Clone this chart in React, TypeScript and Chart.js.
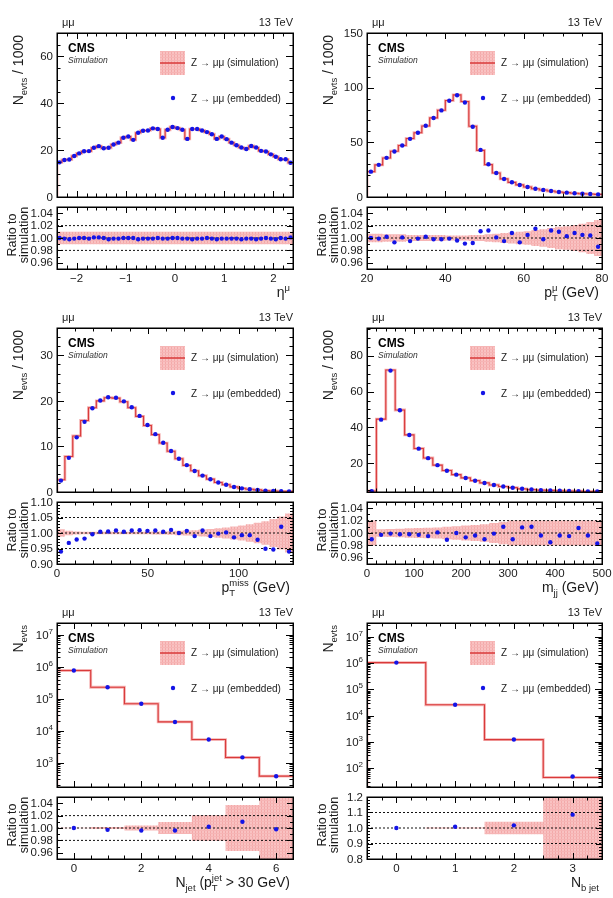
import { useEffect, useRef } from 'react';
import { Chart, registerables } from 'chart.js';

Chart.register(...registerables);

const FONT = '"Liberation Sans", Arial, Helvetica, sans-serif';
const TEXT = '#1b1b1b';
const SIM_RED = '#d93a3a';
const SIM_HALO = '#f5b3b3';
const EMB_BLUE = '#1414e6';

// ---- muon pseudorapidity ----
const etaLo = -2.4, etaHi = 2.4, etaBins = 48;
const etaSim = [14.8, 15.8, 16.0, 17.5, 18.6, 19.5, 19.6, 21.0, 21.7, 20.8, 21.0, 22.4,
  23.2, 25.3, 25.8, 24.4, 27.4, 28.3, 28.4, 29.3, 29.0, 25.3, 28.7, 29.9,
  29.4, 28.7, 24.8, 29.0, 29.0, 28.4, 27.7, 26.8, 24.8, 25.8, 24.7, 23.2,
  22.1, 21.1, 20.5, 21.8, 21.1, 19.7, 19.4, 18.2, 17.2, 16.1, 16.1, 14.6];
const etaEmb = [14.8, 15.8, 16.0, 17.5, 18.6, 19.5, 19.6, 21.0, 21.7, 20.8, 21.0, 22.4,
  23.2, 25.3, 25.8, 24.4, 27.4, 28.3, 28.4, 29.3, 29.0, 25.3, 28.7, 29.9,
  29.4, 28.7, 24.8, 29.0, 29.0, 28.4, 27.7, 26.8, 24.8, 25.8, 24.7, 23.2,
  22.1, 21.1, 20.5, 21.8, 21.1, 19.7, 19.4, 18.2, 17.2, 16.1, 16.1, 14.6];
const etaRatio = [1.000, 0.999, 0.998, 0.999, 1.000, 1.000, 0.999, 1.001, 1.001, 1.000, 0.998, 0.999,
  0.999, 1.000, 1.000, 1.000, 0.998, 0.999, 0.999, 0.999, 1.000, 0.999, 0.999, 1.000,
  1.000, 0.999, 0.999, 0.998, 0.999, 0.999, 1.000, 0.999, 0.998, 0.999, 0.999, 0.999,
  0.999, 0.998, 0.999, 0.999, 0.998, 0.999, 1.000, 0.999, 0.998, 1.000, 0.999, 1.001];
const etaErr = [0.010, 0.010, 0.010, 0.010, 0.010, 0.010, 0.010, 0.010, 0.010, 0.010, 0.010, 0.010,
  0.010, 0.010, 0.010, 0.010, 0.010, 0.010, 0.010, 0.010, 0.010, 0.010, 0.010, 0.010,
  0.010, 0.010, 0.010, 0.010, 0.010, 0.010, 0.010, 0.010, 0.010, 0.010, 0.010, 0.010,
  0.010, 0.010, 0.010, 0.010, 0.010, 0.010, 0.010, 0.010, 0.010, 0.010, 0.010, 0.010];

// ---- muon transverse momentum ----
const ptLo = 20, ptHi = 80, ptBins = 30;
const ptSim = [23.2, 29.4, 35.7, 41.9, 47.1, 53.5, 58.8, 65.0, 72.4, 79.4, 88.2, 93.4, 87.3, 64.7, 42.6,
  29.6, 22.0, 16.6, 13.4, 11.1, 9.15, 7.5, 6.4, 5.45, 4.55, 4.0, 3.37, 2.98, 2.69, 2.43];
const ptEmb = [23.2, 29.4, 35.8, 41.6, 47.1, 53.2, 58.7, 65.1, 72.2, 79.2, 88.1, 93.0, 86.5, 64.2, 43.1,
  30.0, 22.0, 16.5, 13.5, 11.0, 9.2, 7.6, 6.4, 5.5, 4.6, 4.0, 3.4, 3.0, 2.7, 2.4];
const ptRatio = [1.000, 0.999, 1.002, 0.993, 1.001, 0.995, 0.999, 1.002, 0.998, 0.998, 0.999, 0.996, 0.991, 0.992, 1.011,
  1.012, 1.001, 0.995, 1.008, 0.993, 1.005, 1.015, 0.998, 1.012, 1.010, 1.003, 1.008, 1.005, 1.004, 0.986];
const ptErr = [0.007, 0.007, 0.006, 0.006, 0.006, 0.005, 0.005, 0.005, 0.005, 0.005, 0.004, 0.004, 0.004, 0.005, 0.005,
  0.006, 0.007, 0.008, 0.009, 0.010, 0.011, 0.013, 0.014, 0.016, 0.018, 0.019, 0.021, 0.023, 0.026, 0.029];

// ---- missing transverse momentum ----
const metLo = 0, metHi = 130, metBins = 30;
const metSim = [2.7, 7.8, 12.3, 15.7, 18.5, 20.0, 20.7, 20.6, 19.8, 18.5, 16.6, 14.6, 12.6, 10.75, 8.95,
  7.3, 5.85, 4.65, 3.57, 2.83, 2.1, 1.6, 1.12, 0.81, 0.6, 0.46, 0.32, 0.23, 0.15, 0.13];
const metEmb = [2.5, 7.5, 12.0, 15.4, 18.4, 20.1, 20.8, 20.7, 19.9, 18.6, 16.7, 14.7, 12.7, 10.8, 9.0,
  7.3, 5.9, 4.6, 3.6, 2.8, 2.1, 1.6, 1.1, 0.8, 0.6, 0.45, 0.3, 0.22, 0.15, 0.12];
const metRatio = [0.940, 0.968, 0.979, 0.982, 0.996, 1.004, 1.005, 1.008, 1.004, 1.008, 1.009, 1.007, 1.008, 1.004, 1.010,
  1.000, 1.007, 0.990, 1.008, 0.990, 0.998, 1.002, 0.986, 0.993, 0.993, 0.978, 0.949, 0.947, 1.020, 0.940];
const metErr = [0.012, 0.007, 0.005, 0.004, 0.004, 0.004, 0.004, 0.004, 0.004, 0.004, 0.004, 0.004, 0.005, 0.005, 0.006,
  0.007, 0.008, 0.009, 0.011, 0.013, 0.015, 0.018, 0.021, 0.024, 0.028, 0.033, 0.038, 0.045, 0.053, 0.063];

// ---- dijet invariant mass ----
const mjjLo = 0, mjjHi = 500, mjjBins = 25;
const mjjSim = [4.45, 44.6, 72.0, 49.7, 35.8, 28.2, 22.9, 18.9, 15.9, 13.6, 11.8, 10.25, 9.0,
  7.8, 6.95, 6.35, 5.65, 5.25, 4.92, 4.8, 4.62, 4.47, 4.37, 4.22, 4.27];
const mjjEmb = [4.4, 44.3, 71.7, 49.6, 35.7, 28.1, 22.8, 18.9, 15.8, 13.6, 11.7, 10.2, 8.9,
  7.8, 7.0, 6.3, 5.7, 5.3, 4.9, 4.75, 4.6, 4.45, 4.4, 4.2, 4.2];
const mjjRatio = [0.990, 0.997, 0.999, 0.998, 0.998, 0.997, 0.995, 1.001, 0.989, 1.000, 0.993, 0.996, 0.990,
  0.999, 1.010, 0.990, 1.009, 1.010, 0.996, 0.985, 0.996, 0.995, 1.008, 0.996, 0.983];
const mjjErr = [0.020, 0.006, 0.0065, 0.007, 0.0075, 0.008, 0.0085, 0.009, 0.010, 0.011, 0.012, 0.013, 0.014,
  0.016, 0.018, 0.020, 0.020, 0.020, 0.020, 0.020, 0.020, 0.020, 0.020, 0.020, 0.020];

// ---- jet multiplicity ----
const njLo = -0.5, njHi = 6.5, njBins = 7;
const njSim = [7.66e5, 2.29e5, 6.98e4, 1.89e4, 5.31e3, 1.455e3, 380];
const njEmb = [7.66e5, 2.28e5, 6.95e4, 1.88e4, 5.32e3, 1.47e3, 379];
const njRatio = [1.000, 0.997, 0.996, 0.996, 1.002, 1.010, 0.998];
const njErr = [0.0005, 0.0016, 0.004, 0.0097, 0.0205, 0.037, 0.08];

// ---- b jet multiplicity ----
const nbLo = -0.5, nbHi = 3.5, nbBins = 4;
const nbSim = [1.06e6, 2.58e4, 1.2e3, 43.1];
const nbEmb = [1.06e6, 2.6e4, 1.22e3, 46.8];
const nbRatio = [1.000, 1.008, 1.017, 1.086];
const nbErr = [0.0005, 0.003, 0.04, 0.35];

type Part = { t: string; size?: number; dy?: number; stay?: boolean };

const TS = 14;
const sub = (t: string, stay = false): Part => ({ t, size: 9.5, dy: 3.8, stay });
const sup = (t: string): Part => ({ t, size: 9.5, dy: -6 });
const txt = (t: string): Part => ({ t });

const yTitleLin: Part[] = [txt('N'), sub('evts'), txt(' / 1000')];
const yTitleLog: Part[] = [txt('N'), sub('evts')];

type Cfg = {
  col: number; row: number;
  lo: number; hi: number; n: number;
  sim: number[]; emb: number[]; ratio: number[]; err: number[];
  log: boolean; yMin: number; yMax: number; yMajor: number; yMinor: number;
  xMajor: number; xMinor: number;
  rMin: number; rMax: number; rMajor: number; rMinor: number; rDec: number; refs: number[];
  xTitle: Part[]; yTitle: Part[];
};

const panels: Cfg[] = [
  {
    col: 0, row: 0, lo: etaLo, hi: etaHi, n: etaBins, sim: etaSim, emb: etaEmb, ratio: etaRatio, err: etaErr,
    log: false, yMin: 0, yMax: 70, yMajor: 20, yMinor: 5, xMajor: 1, xMinor: 0.2,
    rMin: 0.95, rMax: 1.05, rMajor: 0.02, rMinor: 0.01, rDec: 2, refs: [0.98, 1.0, 1.02],
    xTitle: [txt('η'), sup('μ')], yTitle: yTitleLin,
  },
  {
    col: 1, row: 0, lo: ptLo, hi: ptHi, n: ptBins, sim: ptSim, emb: ptEmb, ratio: ptRatio, err: ptErr,
    log: false, yMin: 0, yMax: 150, yMajor: 50, yMinor: 10, xMajor: 20, xMinor: 5,
    rMin: 0.95, rMax: 1.05, rMajor: 0.02, rMinor: 0.01, rDec: 2, refs: [0.98, 1.0, 1.02],
    xTitle: [txt('p'), sub('T', true), sup('μ'), txt(' (GeV)')], yTitle: yTitleLin,
  },
  {
    col: 0, row: 1, lo: metLo, hi: metHi, n: metBins, sim: metSim, emb: metEmb, ratio: metRatio, err: metErr,
    log: false, yMin: 0, yMax: 36, yMajor: 10, yMinor: 2, xMajor: 50, xMinor: 10,
    rMin: 0.9, rMax: 1.1, rMajor: 0.05, rMinor: 0.01, rDec: 2, refs: [0.95, 1.0, 1.05],
    xTitle: [txt('p'), sub('T', true), sup('miss'), txt(' (GeV)')], yTitle: yTitleLin,
  },
  {
    col: 1, row: 1, lo: mjjLo, hi: mjjHi, n: mjjBins, sim: mjjSim, emb: mjjEmb, ratio: mjjRatio, err: mjjErr,
    log: false, yMin: 3.9, yMax: 95.5, yMajor: 20, yMinor: 5, xMajor: 100, xMinor: 20,
    rMin: 0.95, rMax: 1.05, rMajor: 0.02, rMinor: 0.01, rDec: 2, refs: [0.98, 1.0, 1.02],
    xTitle: [txt('m'), sub('jj'), txt(' (GeV)')], yTitle: yTitleLin,
  },
  {
    col: 0, row: 2, lo: njLo, hi: njHi, n: njBins, sim: njSim, emb: njEmb, ratio: njRatio, err: njErr,
    log: true, yMin: 174, yMax: 2.34e7, yMajor: 0, yMinor: 0, xMajor: 2, xMinor: 0.5,
    rMin: 0.95, rMax: 1.05, rMajor: 0.02, rMinor: 0.01, rDec: 2, refs: [0.98, 1.0, 1.02],
    xTitle: [txt('N'), sub('jet'), txt(' (p'), sub('T', true), sup('jet'), txt(' > 30 GeV)')], yTitle: yTitleLog,
  },
  {
    col: 1, row: 2, lo: nbLo, hi: nbHi, n: nbBins, sim: nbSim, emb: nbEmb, ratio: nbRatio, err: nbErr,
    log: true, yMin: 18.6, yMax: 3.47e7, yMajor: 0, yMinor: 0, xMajor: 1, xMinor: 0.25,
    rMin: 0.8, rMax: 1.2, rMajor: 0.1, rMinor: 0.02, rDec: 1, refs: [0.9, 1.0, 1.1],
    xTitle: [txt('N'), sub('b jet')], yTitle: yTitleLog,
  },
];

// ---- helpers ----
function edgesOf(lo: number, hi: number, n: number) {
  const out: number[] = [];
  for (let i = 0; i <= n; i++) out.push(lo + ((hi - lo) * i) / n);
  return out;
}

function stepPoints(edges: number[], vals: number[], floor?: number) {
  const pts: { x: number; y: number }[] = [];
  if (floor !== undefined) pts.push({ x: edges[0], y: floor });
  vals.forEach((v, i) => pts.push({ x: edges[i], y: v }));
  pts.push({ x: edges[edges.length - 1], y: vals[vals.length - 1] });
  return pts;
}

function centers(edges: number[], vals: number[]) {
  return vals.map((v, i) => ({ x: (edges[i] + edges[i + 1]) / 2, y: v }));
}

function tickValues(min: number, max: number, step: number) {
  const out: number[] = [];
  const start = Math.ceil(min / step - 1e-9);
  for (let k = start; k * step <= max + 1e-9; k++) out.push(+(k * step).toFixed(10));
  return out;
}

function fmt(v: number, dec: number) {
  const s = Math.abs(v) < 1e-12 ? (0).toFixed(dec) : v.toFixed(dec);
  return s.replace('-', '−');
}

function drawRich(ctx: CanvasRenderingContext2D, parts: Part[], x: number, y: number, base: number, align: string) {
  let pending = 0;
  const adv = parts.map((p) => {
    ctx.font = `${p.size ?? base}px ${FONT}`;
    const w = ctx.measureText(p.t).width;
    if (p.stay) { pending = w; return 0; }
    const a = Math.max(w, pending);
    pending = 0;
    return a;
  });
  const total = adv.reduce((s, v) => s + v, 0);
  let cx = align === 'right' ? x - total : align === 'center' ? x - total / 2 : x;
  ctx.textAlign = 'left';
  ctx.textBaseline = 'alphabetic';
  parts.forEach((p, i) => {
    ctx.font = `${p.size ?? base}px ${FONT}`;
    ctx.fillText(p.t, cx, y + (p.dy ?? 0));
    cx += adv[i];
  });
}

let hatch: CanvasPattern | string | null = null;
function bandFill(): CanvasPattern | string {
  if (hatch) return hatch;
  const c = document.createElement('canvas');
  c.width = 3; c.height = 3;
  const g = c.getContext('2d');
  if (!g) return '#f7bcbc';
  g.fillStyle = '#f9c2c2';
  g.fillRect(0, 0, 3, 3);
  g.fillStyle = '#f3a9a9';
  g.fillRect(0, 0, 1, 3);
  g.fillStyle = '#f6b5b5';
  g.fillRect(0, 0, 3, 1);
  hatch = g.createPattern(c, 'repeat') || '#f7bcbc';
  return hatch;
}

function crisp(v: number) { return Math.round(v) + 0.5; }

function drawXTicks(ctx: CanvasRenderingContext2D, chart: any, cfg: Cfg, major: number, minor: number) {
  const a = chart.chartArea; const xs = chart.scales.x;
  const majors = tickValues(cfg.lo, cfg.hi, cfg.xMajor);
  const minors = tickValues(cfg.lo, cfg.hi, cfg.xMinor);
  ctx.beginPath();
  minors.forEach((v) => {
    const px = crisp(xs.getPixelForValue(v));
    ctx.moveTo(px, a.bottom); ctx.lineTo(px, a.bottom - minor);
    ctx.moveTo(px, a.top); ctx.lineTo(px, a.top + minor);
  });
  majors.forEach((v) => {
    const px = crisp(xs.getPixelForValue(v));
    ctx.moveTo(px, a.bottom); ctx.lineTo(px, a.bottom - major);
    ctx.moveTo(px, a.top); ctx.lineTo(px, a.top + major);
  });
  ctx.stroke();
}

function drawYTicksLin(ctx: CanvasRenderingContext2D, chart: any, min: number, max: number, majStep: number, minStep: number, major: number, minor: number) {
  const a = chart.chartArea; const ys = chart.scales.y;
  const majors = tickValues(min, max, majStep);
  const minors = tickValues(min, max, minStep);
  ctx.beginPath();
  minors.forEach((v) => {
    const py = crisp(ys.getPixelForValue(v));
    ctx.moveTo(a.left, py); ctx.lineTo(a.left + minor, py);
    ctx.moveTo(a.right, py); ctx.lineTo(a.right - minor, py);
  });
  majors.forEach((v) => {
    const py = crisp(ys.getPixelForValue(v));
    ctx.moveTo(a.left, py); ctx.lineTo(a.left + major, py);
    ctx.moveTo(a.right, py); ctx.lineTo(a.right - major, py);
  });
  ctx.stroke();
  return majors;
}

function frame(ctx: CanvasRenderingContext2D, a: any) {
  ctx.lineWidth = 1.5;
  ctx.strokeStyle = '#000';
  ctx.strokeRect(Math.round(a.left) + 0.25, Math.round(a.top) + 0.25, Math.round(a.right - a.left), Math.round(a.bottom - a.top));
}

function mainDecor(cfg: Cfg) {
  return {
    id: 'mainDecor',
    afterDraw(chart: any) {
      const ctx: CanvasRenderingContext2D = chart.ctx;
      const a = chart.chartArea; const ys = chart.scales.y;
      ctx.save();
      ctx.strokeStyle = '#000'; ctx.lineWidth = 1;
      drawXTicks(ctx, chart, cfg, 6, 3.5);
      ctx.fillStyle = TEXT;
      if (cfg.log) {
        const e0 = Math.floor(Math.log10(cfg.yMin)); const e1 = Math.ceil(Math.log10(cfg.yMax));
        ctx.beginPath();
        for (let e = e0; e <= e1; e++) {
          for (let m = 1; m <= 9; m++) {
            const v = m * Math.pow(10, e);
            if (v < cfg.yMin || v > cfg.yMax) continue;
            const len = m === 1 ? 7 : 3.5;
            const py = crisp(ys.getPixelForValue(v));
            ctx.moveTo(a.left, py); ctx.lineTo(a.left + len, py);
            ctx.moveTo(a.right, py); ctx.lineTo(a.right - len, py);
          }
        }
        ctx.stroke();
        for (let e = e0; e <= e1; e++) {
          const v = Math.pow(10, e);
          if (v < cfg.yMin || v > cfg.yMax) continue;
          const py = ys.getPixelForValue(v);
          drawRich(ctx, [{ t: '10', size: 11.5 }, { t: String(e), size: 8, dy: -5 }], a.left - 4, py + 4, 11.5, 'right');
        }
      } else {
        const majors = drawYTicksLin(ctx, chart, cfg.yMin, cfg.yMax, cfg.yMajor, cfg.yMinor, 7, 3.5);
        ctx.font = `11.5px ${FONT}`;
        ctx.textAlign = 'right'; ctx.textBaseline = 'middle';
        majors.forEach((v) => ctx.fillText(fmt(v, 0), a.left - 4, ys.getPixelForValue(v) + 0.5));
      }
      frame(ctx, a);

      // header texts
      ctx.fillStyle = TEXT;
      ctx.font = `11px ${FONT}`;
      ctx.textAlign = 'left'; ctx.textBaseline = 'alphabetic';
      ctx.fillText('μμ', a.left + 5, a.top - 7);
      ctx.textAlign = 'right';
      ctx.fillText('13 TeV', a.right, a.top - 7);
      ctx.textAlign = 'left';
      ctx.fillStyle = '#000';
      ctx.font = `bold 12px ${FONT}`;
      ctx.fillText('CMS', a.left + 11, a.top + 19);
      ctx.fillStyle = '#333';
      ctx.font = `italic 8.5px ${FONT}`;
      ctx.fillText('Simulation', a.left + 11, a.top + 30);

      // legend
      const lx = a.left + 103;
      ctx.fillStyle = bandFill() as any;
      ctx.fillRect(lx, a.top + 18, 25, 24);
      ctx.strokeStyle = SIM_RED; ctx.lineWidth = 1.5;
      ctx.beginPath(); ctx.moveTo(lx, a.top + 30); ctx.lineTo(lx + 25, a.top + 30); ctx.stroke();
      ctx.fillStyle = EMB_BLUE;
      ctx.beginPath(); ctx.arc(lx + 13, a.top + 65, 2.2, 0, Math.PI * 2); ctx.fill();
      ctx.fillStyle = TEXT;
      ctx.font = `10px ${FONT}`;
      ctx.fillText('Z → μμ (simulation)', a.left + 134, a.top + 32.5);
      ctx.fillText('Z → μμ (embedded)', a.left + 134, a.top + 68.5);

      // y title
      ctx.save();
      ctx.translate(a.left - 34, a.top + 2);
      ctx.rotate(-Math.PI / 2);
      drawRich(ctx, cfg.yTitle, 0, 0, TS, 'right');
      ctx.restore();
      ctx.restore();
    },
  };
}

function ratioDecor(cfg: Cfg) {
  return {
    id: 'ratioDecor',
    afterDraw(chart: any) {
      const ctx: CanvasRenderingContext2D = chart.ctx;
      const a = chart.chartArea; const xs = chart.scales.x; const ys = chart.scales.y;
      ctx.save();
      ctx.strokeStyle = '#000'; ctx.lineWidth = 1;
      drawXTicks(ctx, chart, cfg, 6, 3.5);
      const majors = drawYTicksLin(ctx, chart, cfg.rMin, cfg.rMax, cfg.rMajor, cfg.rMinor, 6, 3);
      frame(ctx, a);
      ctx.fillStyle = TEXT;
      ctx.font = `11.5px ${FONT}`;
      ctx.textAlign = 'right'; ctx.textBaseline = 'middle';
      majors.forEach((v) => ctx.fillText(fmt(v, cfg.rDec), a.left - 4, ys.getPixelForValue(v) + 0.5));
      ctx.textAlign = 'center'; ctx.textBaseline = 'top';
      const xDec = cfg.xMajor < 1 ? 1 : 0;
      tickValues(cfg.lo, cfg.hi, cfg.xMajor).forEach((v) => ctx.fillText(fmt(v, xDec), xs.getPixelForValue(v), a.bottom + 4));
      drawRich(ctx, cfg.xTitle, a.right - 3, a.bottom + 28, TS, 'right');
      ctx.save();
      ctx.translate(a.left - 44, a.top + 28);
      ctx.rotate(-Math.PI / 2);
      ctx.font = `12.5px ${FONT}`;
      ctx.textAlign = 'center'; ctx.textBaseline = 'middle';
      ctx.fillText('Ratio to', 0, 0);
      ctx.fillText('simulation', 0, 12);
      ctx.restore();
      ctx.restore();
    },
  };
}

// each panel owns a 307×305 region; neighbouring regions overlap a little, canvases are transparent
const W = 307, H = 305, ROW = 295;

function pads(cfg: Cfg, top: number, bottom: number) {
  return cfg.col === 0
    ? { left: 57, right: W - 293, top, bottom: H - bottom }
    : { left: 61, right: W - 296, top, bottom: H - bottom };
}

function baseOptions(cfg: Cfg, padding: any, y: any) {
  return {
    responsive: false,
    animation: false as const,
    devicePixelRatio: 1,
    events: [],
    layout: { padding },
    plugins: { legend: { display: false }, tooltip: { enabled: false }, title: { display: false } },
    scales: {
      x: { type: 'linear' as const, display: false, min: cfg.lo, max: cfg.hi, bounds: 'data' as const },
      y,
    },
  };
}

function makeMain(canvas: HTMLCanvasElement, cfg: Cfg) {
  const edges = edgesOf(cfg.lo, cfg.hi, cfg.n);
  const steps = stepPoints(edges, cfg.sim, cfg.yMin);
  return new Chart(canvas, {
    type: 'line',
    data: {
      datasets: [
        { data: centers(edges, cfg.emb), showLine: false, pointRadius: 2.2, pointBackgroundColor: EMB_BLUE, pointBorderWidth: 0, order: 0 },
        { data: steps, stepped: 'before', borderColor: SIM_RED, borderWidth: 1.1, pointRadius: 0, fill: false, order: 1 },
        { data: steps, stepped: 'before', borderColor: SIM_HALO, borderWidth: 2.8, pointRadius: 0, fill: false, order: 2 },
      ],
    } as any,
    options: baseOptions(cfg, pads(cfg, 33, 197), {
      type: cfg.log ? 'logarithmic' : 'linear', display: false, min: cfg.yMin, max: cfg.yMax, bounds: 'data',
    }) as any,
    plugins: [mainDecor(cfg)],
  });
}

function makeRatio(canvas: HTMLCanvasElement, cfg: Cfg) {
  const edges = edgesOf(cfg.lo, cfg.hi, cfg.n);
  const upper = stepPoints(edges, cfg.err.map((e) => 1 + e));
  const lower = stepPoints(edges, cfg.err.map((e) => 1 - e));
  const refSets = cfg.refs.map((r) => ({
    data: [{ x: cfg.lo, y: r }, { x: cfg.hi, y: r }],
    borderColor: '#111', borderWidth: 1, borderDash: [2, 2], pointRadius: 0, fill: false, order: 1,
  }));
  return new Chart(canvas, {
    type: 'line',
    data: {
      datasets: [
        { data: centers(edges, cfg.ratio), showLine: false, pointRadius: 2.2, pointBackgroundColor: EMB_BLUE, pointBorderWidth: 0, order: 0 },
        ...refSets,
        { data: upper, stepped: 'before', borderWidth: 0, pointRadius: 0, fill: '+1', backgroundColor: bandFill(), order: 3 },
        { data: lower, stepped: 'before', borderWidth: 0, pointRadius: 0, fill: false, order: 4 },
      ],
    } as any,
    options: baseOptions(cfg, pads(cfg, 207, 269), {
      type: 'linear', display: false, min: cfg.rMin, max: cfg.rMax, bounds: 'data',
    }) as any,
    plugins: [ratioDecor(cfg)],
  });
}

function PanelView({ cfg }: { cfg: Cfg }) {
  const mainRef = useRef<HTMLCanvasElement>(null);
  const ratioRef = useRef<HTMLCanvasElement>(null);
  useEffect(() => {
    if (!mainRef.current || !ratioRef.current) return;
    const charts = [makeMain(mainRef.current, cfg), makeRatio(ratioRef.current, cfg)];
    return () => charts.forEach((c) => c.destroy());
  }, [cfg]);
  const style: any = { position: 'absolute', left: cfg.col * 306, top: cfg.row * ROW, width: W, height: H };
  return (
    <>
      <canvas ref={mainRef} width={W} height={H} style={style} />
      <canvas ref={ratioRef} width={W} height={H} style={style} />
    </>
  );
}

export default function App() {
  return (
    <div style={{ position: 'absolute', left: 0, top: 0, width: 613, height: 898, background: '#fff', overflow: 'hidden' }}>
      {panels.map((p, i) => <PanelView key={i} cfg={p} />)}
    </div>
  );
}
